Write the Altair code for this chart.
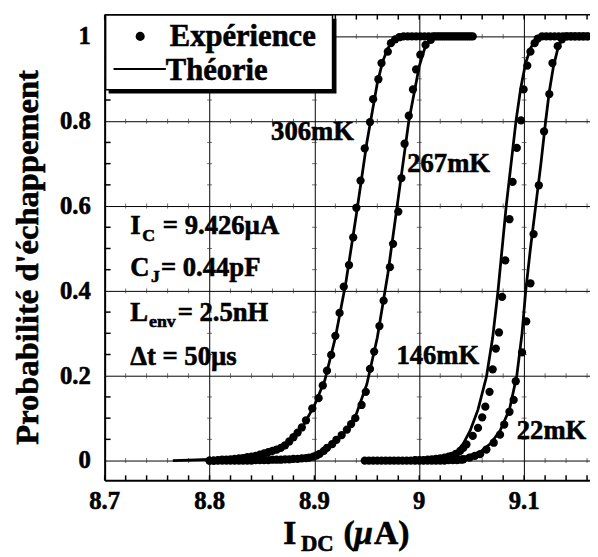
import altair as alt
import pandas as pd

FONT = "Liberation Serif"

# ---------------- data ----------------
# 306 mK experiment
exp_306_x = [8.800, 8.804, 8.808, 8.812, 8.816, 8.820, 8.824, 8.828, 8.832, 8.836, 8.840, 8.844,
             8.848, 8.852, 8.856, 8.860, 8.864, 8.868, 8.872, 8.876, 8.880, 8.884, 8.888, 8.892,
             8.898, 8.904, 8.908, 8.912, 8.916, 8.920, 8.924, 8.928, 8.933, 8.937, 8.940, 8.944,
             8.948, 8.953, 8.956, 8.961, 8.964, 8.970, 8.973,
             8.977, 8.981, 8.985, 8.989, 8.993, 8.997, 9.001, 9.005, 9.009, 9.013, 9.017, 9.021,
             9.025, 9.029, 9.033, 9.037, 9.041, 9.045, 9.049]
exp_306_y = [0.000, 0.000, 0.001, 0.002, 0.002, 0.003, 0.004, 0.005, 0.006, 0.008, 0.009, 0.011,
             0.014, 0.017, 0.020, 0.023, 0.026, 0.030, 0.036, 0.045, 0.055, 0.066, 0.078, 0.095,
             0.123, 0.147, 0.177, 0.212, 0.249, 0.294, 0.348, 0.410, 0.461, 0.526, 0.596, 0.660,
             0.736, 0.798, 0.852, 0.899, 0.937, 0.964, 0.984,
             0.993, 0.998, 1.0, 1.0, 1.0, 1.0, 1.0, 1.0, 1.0, 1.0, 1.0, 1.0,
             1.0, 1.0, 1.0, 1.0, 1.0, 1.0, 1.0]

# 267 mK experiment
exp_267_x = [8.800, 8.804, 8.808, 8.812, 8.816, 8.820, 8.824, 8.828, 8.832, 8.836, 8.840, 8.844,
             8.848, 8.852, 8.856, 8.860, 8.864, 8.868, 8.872, 8.876, 8.880, 8.884, 8.888, 8.892,
             8.895, 8.899, 8.902, 8.905, 8.909, 8.912, 8.917, 8.921, 8.926, 8.931, 8.935, 8.939,
             8.945, 8.949, 8.953, 8.957, 8.962, 8.966, 8.972, 8.975, 8.980, 8.983, 8.986, 8.990,
             8.994, 8.997, 9.001, 9.006, 9.011,
             9.015, 9.019, 9.023, 9.027, 9.031, 9.035, 9.039, 9.043, 9.047, 9.051]
exp_267_y = [0.000, 0.000, 0.000, 0.000, 0.000, 0.000, 0.000, 0.000, 0.000, 0.000, 0.000, 0.001,
             0.001, 0.001, 0.001, 0.002, 0.002, 0.002, 0.003, 0.003, 0.004, 0.004, 0.005, 0.006,
             0.007, 0.009, 0.012, 0.016, 0.023, 0.030, 0.039, 0.049, 0.060, 0.073, 0.086, 0.100,
             0.131, 0.162, 0.216, 0.257, 0.317, 0.377, 0.456, 0.511, 0.587, 0.666, 0.747, 0.813,
             0.875, 0.922, 0.957, 0.980, 0.992,
             1.0, 1.0, 1.0, 1.0, 1.0, 1.0, 1.0, 1.0, 1.0, 1.0]

# 146 mK experiment
exp_146_x = [8.948, 8.952, 8.956, 8.960, 8.964, 8.968, 8.972, 8.976, 8.980, 8.984, 8.988, 8.992,
             8.996, 9.000, 9.004, 9.008, 9.012, 9.016, 9.020, 9.024, 9.028,
             9.031, 9.035, 9.039, 9.042, 9.045, 9.051, 9.056, 9.060, 9.063, 9.067, 9.070, 9.073,
             9.076, 9.079, 9.082, 9.086, 9.089, 9.093, 9.097, 9.0995, 9.103, 9.106, 9.110,
             9.113, 9.117, 9.121, 9.125, 9.129, 9.133, 9.137, 9.141, 9.145, 9.149, 9.153, 9.157, 9.161]
exp_146_y = [0.000, 0.000, 0.000, 0.000, 0.000, 0.000, 0.000, 0.000, 0.000, 0.000, 0.000, 0.000,
             0.001, 0.001, 0.001, 0.002, 0.003, 0.004, 0.005, 0.007, 0.009,
             0.011, 0.016, 0.023, 0.030, 0.038, 0.058, 0.077, 0.102, 0.127, 0.162, 0.215, 0.264,
             0.302, 0.386, 0.472, 0.569, 0.657, 0.737, 0.802, 0.875, 0.931, 0.964, 0.984,
             0.995, 1.0, 1.0, 1.0, 1.0, 1.0, 1.0, 1.0, 1.0, 1.0, 1.0, 1.0, 1.0]

# 22 mK experiment
exp_22_x = [8.996, 9.000, 9.004, 9.008, 9.012, 9.016, 9.020, 9.024, 9.028, 9.032, 9.036, 9.040,
            9.042, 9.048, 9.053, 9.058, 9.064, 9.071, 9.077, 9.081, 9.086, 9.090, 9.092, 9.098,
            9.102, 9.106, 9.109, 9.114, 9.119, 9.124, 9.127, 9.132,
            9.136, 9.140, 9.144, 9.148, 9.152, 9.156, 9.160]
exp_22_y = [0.000, 0.000, 0.000, 0.000, 0.000, 0.000, 0.000, 0.000, 0.001, 0.001, 0.001, 0.002,
            0.003, 0.007, 0.011, 0.015, 0.026, 0.042, 0.061, 0.085, 0.115, 0.143, 0.187, 0.255,
            0.328, 0.418, 0.534, 0.649, 0.776, 0.864, 0.937, 0.977,
            0.993, 1.0, 1.0, 1.0, 1.0, 1.0, 1.0]

# theory curves
th_306_x = [8.765, 8.78, 8.80, 8.82, 8.84, 8.86, 8.87, 8.88, 8.89, 8.90, 8.91, 8.92, 8.93,
            8.94, 8.95, 8.96, 8.965, 8.97, 8.975, 8.98, 9.0]
th_306_y = [0.0, 0.001, 0.003, 0.006, 0.012, 0.024, 0.036, 0.055, 0.085, 0.13, 0.19, 0.29, 0.42,
            0.58, 0.75, 0.89, 0.94, 0.972, 0.99, 1.0, 1.0]
th_267_x = [8.80, 8.84, 8.87, 8.89, 8.90, 8.91, 8.92, 8.93, 8.94, 8.95, 8.96, 8.97, 8.98,
            8.99, 9.0, 9.005, 9.01, 9.015, 9.05]
th_267_y = [0.0, 0.001, 0.003, 0.007, 0.011, 0.02, 0.042, 0.07, 0.11, 0.18, 0.29, 0.44, 0.62,
            0.80, 0.93, 0.97, 0.99, 1.0, 1.0]
th_146_x = [8.95, 9.0, 9.02, 9.03, 9.0356, 9.042, 9.0484, 9.056, 9.0641, 9.07, 9.075, 9.0829,
            9.0923, 9.0967, 9.1014, 9.1061, 9.111, 9.116, 9.163]
th_146_y = [0.0, 0.001, 0.004, 0.01, 0.019, 0.04, 0.07, 0.12, 0.198, 0.29, 0.398, 0.6,
            0.802, 0.877, 0.937, 0.972, 0.993, 1.0, 1.0]
th_22_x = [8.97, 9.02, 9.045, 9.058, 9.068, 9.077, 9.086, 9.093, 9.098, 9.1015, 9.106, 9.111,
           9.116, 9.1205, 9.124, 9.128, 9.132, 9.136, 9.14, 9.163]
th_22_y = [0.0, 0.003, 0.01, 0.02, 0.04, 0.07, 0.12, 0.2, 0.3, 0.4, 0.5, 0.6,
           0.7, 0.8, 0.87, 0.93, 0.97, 0.995, 1.0, 1.0]

# curve labels
label_text = ["306mK", "267mK", "146mK", "22mK"]
label_x = [8.8587, 8.9885, 8.9782, 9.0930]
label_y = [0.774, 0.698, 0.247, 0.070]

# ticks and tick labels
major_x = [8.7, 8.8, 8.9, 9.0, 9.1]
x_tick_labels = ["8.7", "8.8", "8.9", "9", "9.1"]
minor_x = [8.72, 8.74, 8.76, 8.78, 8.82, 8.84, 8.86, 8.88, 8.92, 8.94, 8.96, 8.98,
           9.02, 9.04, 9.06, 9.08, 9.12, 9.14, 9.16]
major_y = [0, 0.2, 0.4, 0.6, 0.8, 1.0]
y_tick_labels = ["0", "0.2", "0.4", "0.6", "0.8", "1"]
minor_y = [0.05, 0.1, 0.15, 0.25, 0.3, 0.35, 0.45, 0.5, 0.55, 0.65, 0.7, 0.75, 0.85, 0.9, 0.95]

# ---------------- tables ----------------
exp_df = pd.concat([
    pd.DataFrame({"x": exp_306_x, "y": exp_306_y, "s": "306"}),
    pd.DataFrame({"x": exp_267_x, "y": exp_267_y, "s": "267"}),
    pd.DataFrame({"x": exp_146_x, "y": exp_146_y, "s": "146"}),
    pd.DataFrame({"x": exp_22_x, "y": exp_22_y, "s": "22"}),
])
th_df = pd.concat([
    pd.DataFrame({"x": th_306_x, "y": th_306_y, "s": "306"}),
    pd.DataFrame({"x": th_267_x, "y": th_267_y, "s": "267"}),
    pd.DataFrame({"x": th_146_x, "y": th_146_y, "s": "146"}),
    pd.DataFrame({"x": th_22_x, "y": th_22_y, "s": "22"}),
])
lab_df = pd.DataFrame({"x": label_x, "y": label_y, "t": label_text})
xlab_df = pd.DataFrame({"x": major_x, "t": x_tick_labels})
ylab_df = pd.DataFrame({"y": major_y, "t": y_tick_labels})
allx_df = pd.DataFrame({"x": major_x + minor_x})
miny_df = pd.DataFrame({"y": minor_y})
hcross_df = pd.DataFrame([{"x": mx, "y": gy} for gy in major_y for mx in minor_x])
vcross_df = pd.DataFrame([{"x": gx, "y": my} for gx in major_x[1:] for my in minor_y])
one = pd.DataFrame({"a": [0]})

W, H = 492, 472
xs = alt.Scale(domain=[8.7, 9.1628], nice=False, zero=False)
ys = alt.Scale(domain=[-0.0465, 1.0512], nice=False, zero=False)

xaxis = alt.Axis(values=major_x, title=None, grid=True, gridColor="black", gridWidth=1,
                 gridOpacity=1, ticks=False, tickSize=0, labels=False,
                 domainColor="black", domainWidth=2)
yaxis = alt.Axis(values=major_y, title=None, grid=True, gridColor="black", gridWidth=1,
                 gridOpacity=1, ticks=False, tickSize=0, labels=False,
                 domainColor="black", domainWidth=2)

SW = 0.6  # extra stroke to thicken the bold serif text


def X(f="x"):
    return alt.X(f"{f}:Q", scale=xs, axis=xaxis)


def Y(f="y"):
    return alt.Y(f"{f}:Q", scale=ys, axis=yaxis)


def txt(s, x, y, size, style="normal", align="left", baseline="alphabetic", angle=0):
    return alt.Chart(one).mark_text(text=s, font=FONT, fontSize=size, fontWeight="bold",
                                    fontStyle=style, align=align, baseline=baseline,
                                    angle=angle, color="black", stroke="black",
                                    strokeWidth=SW).encode(x=alt.value(x), y=alt.value(y))


grid = alt.Chart(exp_df).mark_point(opacity=0).encode(x=X(), y=Y())

hcross = alt.Chart(hcross_df).mark_tick(orient="vertical", size=5, thickness=1,
                                        color="#333333").encode(x=X(), y=Y())
vcross = alt.Chart(vcross_df).mark_tick(orient="horizontal", size=5, thickness=1,
                                        color="#333333").encode(x=X(), y=Y())
bottom_ticks = alt.Chart(allx_df).mark_rule(color="black", strokeWidth=1.5).encode(
    x=X(), y=alt.value(H), y2=alt.value(H - 5))
top_ticks = alt.Chart(allx_df).mark_rule(color="black", strokeWidth=1.5).encode(
    x=X(), y=alt.value(0), y2=alt.value(5))
left_ticks = alt.Chart(miny_df).mark_rule(color="black", strokeWidth=1.5).encode(
    y=Y(), x=alt.value(0), x2=alt.value(6))
top_border = alt.Chart(one).mark_rule(color="black", strokeWidth=1.5).encode(
    x=alt.value(0), x2=alt.value(W), y=alt.value(0))

xlabels = alt.Chart(xlab_df).mark_text(font=FONT, fontSize=25, fontWeight="bold",
                                       align="center", baseline="alphabetic", color="black",
                                       stroke="black", strokeWidth=SW).encode(
    x=X(), y=alt.value(501), text="t:N")
ylabels = alt.Chart(ylab_df).mark_text(font=FONT, fontSize=25, fontWeight="bold",
                                       align="right", baseline="middle", color="black",
                                       stroke="black", strokeWidth=SW).encode(
    y=Y(), x=alt.value(-14), text="t:N")

lines = alt.Chart(th_df).mark_line(color="black", strokeWidth=2.8, clip=True).encode(
    x=X(), y=Y(), detail="s:N")
dots = alt.Chart(exp_df).mark_circle(size=70, color="black", opacity=1, clip=True).encode(
    x=X(), y=Y())
labels = alt.Chart(lab_df).mark_text(font=FONT, fontSize=27, fontWeight="bold", align="left",
                                     baseline="middle", color="black", stroke="black",
                                     strokeWidth=SW).encode(
    x=X(), y=Y(), text="t:N")

# legend box
shadow = alt.Chart(one).mark_rect(color="black").encode(
    x=alt.value(4), x2=alt.value(235), y=alt.value(4), y2=alt.value(80))
box = alt.Chart(one).mark_rect(fill="white", stroke="black", strokeWidth=1.5).encode(
    x=alt.value(1), x2=alt.value(231), y=alt.value(0), y2=alt.value(76))
leg_dot = alt.Chart(one).mark_circle(size=85, color="black", opacity=1).encode(
    x=alt.value(36), y=alt.value(22))
leg_line = alt.Chart(one).mark_rule(color="black", strokeWidth=2).encode(
    x=alt.value(9), x2=alt.value(62), y=alt.value(55))

texts = [
    txt("Expérience", 66, 32, 31),
    txt("Théorie", 62, 66, 31),
    # parameter block
    txt("I", 26, 222, 27), txt("C", 38, 229, 18), txt("= 9.426µA", 59, 222, 27),
    txt("C", 26, 265, 27), txt("J", 47, 271, 18), txt("= 0.44pF", 57, 265, 27),
    txt("L", 26, 311, 27), txt("env", 45, 317, 18), txt("= 2.5nH", 74, 311, 27),
    txt("Δt = 50µs", 26, 355, 27),
    # axis titles
    txt("Probabilité d'échappement", -68, 246, 33, align="center", angle=270),
    txt("I", 181, 537, 34), txt("DC", 199, 544, 23), txt("(", 242, 537, 34),
    txt("μ", 253, 537, 34, style="italic"), txt("A)", 273, 537, 34),
]

chart = alt.layer(
    grid, hcross, vcross, bottom_ticks, top_ticks, left_ticks, lines, dots, labels,
    xlabels, ylabels, shadow, box, leg_dot, leg_line, top_border, *texts
).properties(
    width=W, height=H,
    autosize=alt.AutoSizeParams(type="none"),
    padding={"left": 98, "top": 3, "right": 0, "bottom": 74},
).configure_view(strokeWidth=0)

chart.save("out.html", embed_options={"renderer": "svg", "actions": False})
